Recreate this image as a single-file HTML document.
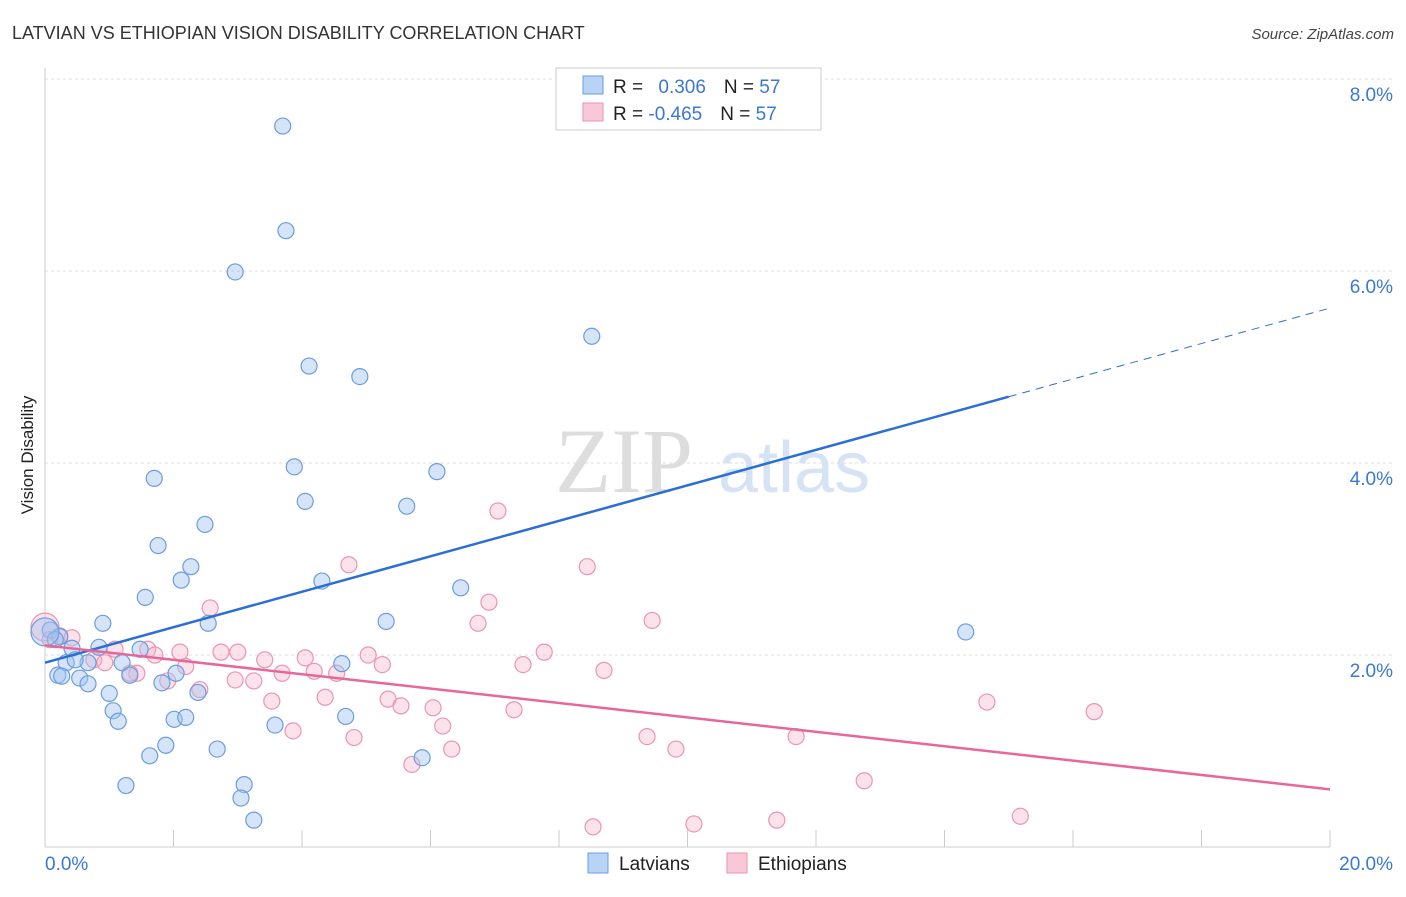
<!DOCTYPE html>
<html><head><meta charset="utf-8"><style>
body{margin:0;background:#fff;font-family:"Liberation Sans",sans-serif}
</style></head><body>
<svg id="chart" width="1406" height="892" xmlns="http://www.w3.org/2000/svg" font-family="Liberation Sans, sans-serif">
<text x="12" y="39" font-size="18" fill="#333">LATVIAN VS ETHIOPIAN VISION DISABILITY CORRELATION CHART</text>
<text x="1394" y="39" font-size="15" fill="#444" text-anchor="end" font-style="italic">Source: ZipAtlas.com</text>
<text x="555" y="492" font-size="92" fill="#ddd" font-family="Liberation Serif, serif">ZIP</text>
<text x="718" y="492" font-size="72" fill="#d5e3f5">atlas</text>
<text transform="translate(33,455) rotate(-90)" font-size="17" fill="#222" text-anchor="middle">Vision Disability</text>
<g id="grid"></g><g id="ticks"></g><g id="pts"></g><g id="lines"></g>
<g>
<rect x="556" y="68" width="265" height="62" fill="#fff" stroke="#ccc"/>
<rect x="583" y="76" width="20" height="18" fill="#b8d3f5" stroke="#6a9de0"/>
<rect x="583" y="103" width="20" height="18" fill="#f9c8d6" stroke="#eb95b0"/>
<text x="613" y="93" font-size="19" fill="#222">R = <tspan fill="#3a78d4" dx="10">0.306</tspan><tspan dx="18" fill="#222">N = </tspan><tspan fill="#3a78d4">57</tspan></text>
<text x="613" y="120" font-size="19" fill="#222">R = <tspan fill="#3a78d4">-0.465</tspan><tspan dx="18" fill="#222">N = </tspan><tspan fill="#3a78d4">57</tspan></text>
</g>
<g>
<rect x="588" y="853" width="20" height="20" fill="#b8d3f5" stroke="#6a9de0"/>
<text x="619" y="870" font-size="19" fill="#222">Latvians</text>
<rect x="727" y="853" width="20" height="20" fill="#f9c8d6" stroke="#eb95b0"/>
<text x="758" y="870" font-size="19" fill="#222">Ethiopians</text>
</g>
</svg>
<script>
const yTicks=[2,4,6,8];
const yTickLabels=["2.0%","4.0%","6.0%","8.0%"];
const xEndLabels=["0.0%","20.0%"];
const latviansX=[3.70,3.75,2.96,8.51,4.11,4.90,3.88,6.10,1.70,4.05,5.63,2.49,1.76,2.27,2.12,4.31,6.47,1.56,0.90,2.54,5.31,14.33,0.08,0.84,0.23,1.48,0.42,1.20,0.33,0.67,4.62,2.04,0.20,0.26,0.54,0.67,1.32,1.82,2.38,1.00,1.06,1.14,2.01,2.19,4.68,3.58,2.68,1.88,1.63,5.87,1.26,3.10,3.05,3.25,0.16,0.0,0.47];
const latviansY=[7.51,6.42,5.99,5.32,5.01,4.90,3.96,3.91,3.84,3.60,3.55,3.36,3.14,2.92,2.78,2.77,2.70,2.60,2.33,2.33,2.35,2.24,2.26,2.08,2.19,2.06,2.07,1.92,1.92,1.92,1.91,1.81,1.79,1.78,1.76,1.70,1.79,1.71,1.61,1.60,1.42,1.31,1.33,1.35,1.36,1.27,1.02,1.06,0.95,0.93,0.64,0.65,0.51,0.28,2.16,2.24,1.95];
const ethiopiansX=[7.05,4.73,8.44,6.91,2.57,9.45,6.74,0,0.23,0.42,1.09,1.60,2.10,2.74,3.00,1.71,5.03,7.77,4.05,3.42,0.76,0.93,5.25,7.44,2.19,3.69,4.19,4.54,8.70,2.96,3.25,1.91,1.43,2.41,4.36,3.53,5.34,5.54,6.04,14.66,16.33,7.30,6.19,3.86,4.81,9.37,11.69,9.82,6.33,5.71,12.75,15.18,11.39,10.10,8.53,1.32,0.08];
const ethiopiansY=[3.50,2.94,2.92,2.55,2.49,2.36,2.33,2.29,2.20,2.18,2.06,2.06,2.03,2.03,2.03,2.00,2.00,2.03,1.97,1.95,1.95,1.92,1.90,1.90,1.88,1.81,1.83,1.81,1.84,1.74,1.73,1.73,1.81,1.64,1.56,1.52,1.54,1.47,1.45,1.51,1.41,1.43,1.26,1.21,1.14,1.15,1.15,1.02,1.02,0.86,0.69,0.32,0.28,0.24,0.21,1.81,2.16];
const latviansTrend=[1.92,0.1847];
const ethiopiansTrend=[2.1,-0.075];
const NS="http://www.w3.org/2000/svg";
const sx=v=>45+v*64.25, sy=v=>847-v*96;
function mk(t,a,p){const e=document.createElementNS(NS,t);for(const k in a)e.setAttribute(k,a[k]);p.appendChild(e);return e;}
const grid=document.getElementById('grid'),ticks=document.getElementById('ticks'),pts=document.getElementById('pts'),lines=document.getElementById('lines');
yTicks.forEach((t,i)=>{
 const l=mk('line',{x1:45,x2:1392,y1:sy(t),y2:sy(t),stroke:'#ddd','stroke-dasharray':'3,3'},grid);
 
 
 const tx=mk('text',{x:1393,y:sy(t)+22,'font-size':19,fill:'#3a78d4','text-anchor':'end'},ticks);
 tx.textContent=yTickLabels[i];
 
 
});
const ax=mk('line',{x1:45,x2:45,y1:68,y2:847,stroke:'#ccc'},ticks);


const xa=mk('line',{x1:45,x2:1330,y1:847,y2:847,stroke:'#ccc'},ticks);


for(let v=2;v<=20;v+=2){const t=mk('line',{x1:sx(v),x2:sx(v),y1:830,y2:847,stroke:'#ccc'},ticks);
 
 }
[[0,'start',45],[20,'end',1393]].forEach((d,i)=>{const t=mk('text',{x:d[2],y:870,'font-size':19,fill:'#3a78d4','text-anchor':d[1]},ticks);t.textContent=xEndLabels[i];
 
 });
function dots(X,Y,fill,stroke,name){X.forEach((x,i)=>{const c=mk('circle',{cx:sx(x),cy:sy(Y[i]),r:(x===0?14:8),fill:fill,stroke:stroke,'stroke-width':1.2},pts);
 
 });}
dots(ethiopiansX,ethiopiansY,'rgba(248,182,202,0.4)','#eb95b0','ethiopian-point');
dots(latviansX,latviansY,'rgba(164,196,240,0.45)','#6a9de0','latvian-point');
const bl=mk('line',{x1:sx(0),y1:sy(latviansTrend[0]),x2:sx(15),y2:sy(latviansTrend[0]+15*latviansTrend[1]),stroke:'#2b6fd6','stroke-width':2.5},lines);


const bd=mk('line',{x1:sx(15),y1:sy(latviansTrend[0]+15*latviansTrend[1]),x2:sx(20),y2:sy(latviansTrend[0]+20*latviansTrend[1]),stroke:'#2b6fd6','stroke-width':1,'stroke-dasharray':'8,6'},lines);


const pl=mk('line',{x1:sx(0),y1:sy(ethiopiansTrend[0]),x2:sx(20),y2:sy(ethiopiansTrend[0]+20*ethiopiansTrend[1]),stroke:'#e8679a','stroke-width':2.5},lines);


</script>
</body></html>
